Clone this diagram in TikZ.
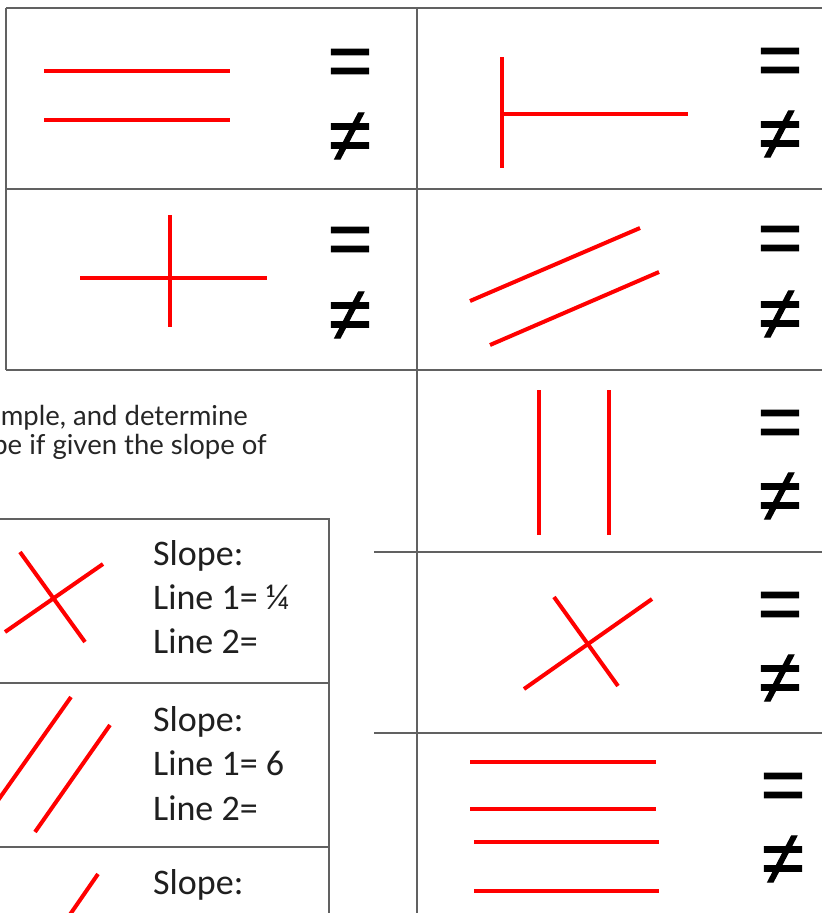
\documentclass[tikz,border=0pt]{standalone}
\usepackage{fontspec}
\setmainfont{Carlito}
\newfontfamily\symfnt{Liberation Sans}[FakeBold=1.5]
\newfontfamily\headfnt{Lato}
\begin{document}
\begin{tikzpicture}[x=1pt,y=-1pt,
  grid/.style={draw=black!62, line width=1.6pt},
  redline/.style={draw=red, line width=4pt},
  sym/.style={font=\symfnt\fontsize{76}{76}\selectfont, anchor=north, inner sep=0pt},
  nsym/.style={font=\symfnt\fontsize{76}{76}\selectfont, anchor=center, inner sep=0pt},
  slopetxt/.style={font=\fontsize{36}{44}\selectfont, anchor=base west, inner sep=0pt, text=black!88},
  headtxt/.style={font=\headfnt\fontsize{27.5}{31}\selectfont, anchor=base east, inner sep=0pt, text=black!85}]
\useasboundingbox (0,0) rectangle (822,913);
\fill[white] (0,0) rectangle (822,913);
% grid of the right/top table
\draw[grid] (6,8) -- (822,8);
\draw[grid] (6,8) -- (6,370);
\draw[grid] (6,189) -- (822,189);
\draw[grid] (6,370) -- (822,370);
\draw[grid] (417,8) -- (417,913);
\draw[grid] (374,552) -- (822,552);
\draw[grid] (374,733) -- (822,733);
% left slope table
\draw[grid] (-5,519) -- (329,519) -- (329,918);
\draw[grid] (-5,683) -- (329,683);
\draw[grid] (-5,847) -- (329,847);
% red figures
\draw[redline] (44,71) -- (230,71);
\draw[redline] (44,120) -- (230,120);
\draw[redline] (502,57) -- (502,168);
\draw[redline] (502,114) -- (688,114);
\draw[redline] (170,215) -- (170,327);
\draw[redline] (80,278) -- (267,278);
\draw[redline] (470,301) -- (640,228);
\draw[redline] (490,345) -- (659,272);
\draw[redline] (539,390) -- (539,535);
\draw[redline] (609,390) -- (609,535);
\draw[redline] (554,597) -- (618,686);
\draw[redline] (652,599) -- (524,689);
\draw[redline] (470,762) -- (656,762);
\draw[redline] (470,809) -- (656,809);
\draw[redline] (474,842) -- (659,842);
\draw[redline] (474,891) -- (659,891);
\draw[redline] (20,552) -- (85,642);
\draw[redline] (103,564) -- (5,632);
\draw[redline] (71,697) -- (-6,806);
\draw[redline] (110,725) -- (35,832);
\draw[redline] (98,874) -- (60,929);
% symbols
\node[sym] (eqA) at (350,49) {=};
\node[nsym] (neA) at (350,137) {≠};
\node[sym] (eqB) at (780,48) {=};
\node[nsym] (neB) at (780,135) {≠};
\node[sym] (eqC) at (350,227) {=};
\node[nsym] (neC) at (350,316) {≠};
\node[sym] (eqD) at (780,226) {=};
\node[nsym] (neD) at (780,315) {≠};
\node[sym] (eqE) at (780,410) {=};
\node[nsym] (neE) at (780,497) {≠};
\node[sym] (eqF) at (780,592) {=};
\node[nsym] (neF) at (780,679) {≠};
\node[sym] (eqG) at (783,773) {=};
\node[nsym] (neG) at (783,860) {≠};
% heading text
\node[headtxt] (h1) at (248,425) {mple, and determine};
\node[headtxt] (h2) at (267,454) {pe if given the slope of};
% slope texts
\node[slopetxt] (s1a) at (153,565) {Slope:};
\node[slopetxt] (s1b) at (153,609) {Line 1= ¼};
\node[slopetxt] (s1c) at (153,653) {Line 2=};
\node[slopetxt] (s2a) at (153,731) {Slope:};
\node[slopetxt] (s2b) at (153,775) {Line 1= 6};
\node[slopetxt] (s2c) at (153,820) {Line 2=};
\node[slopetxt] (s3a) at (153,894) {Slope:};
\end{tikzpicture}
\end{document}
